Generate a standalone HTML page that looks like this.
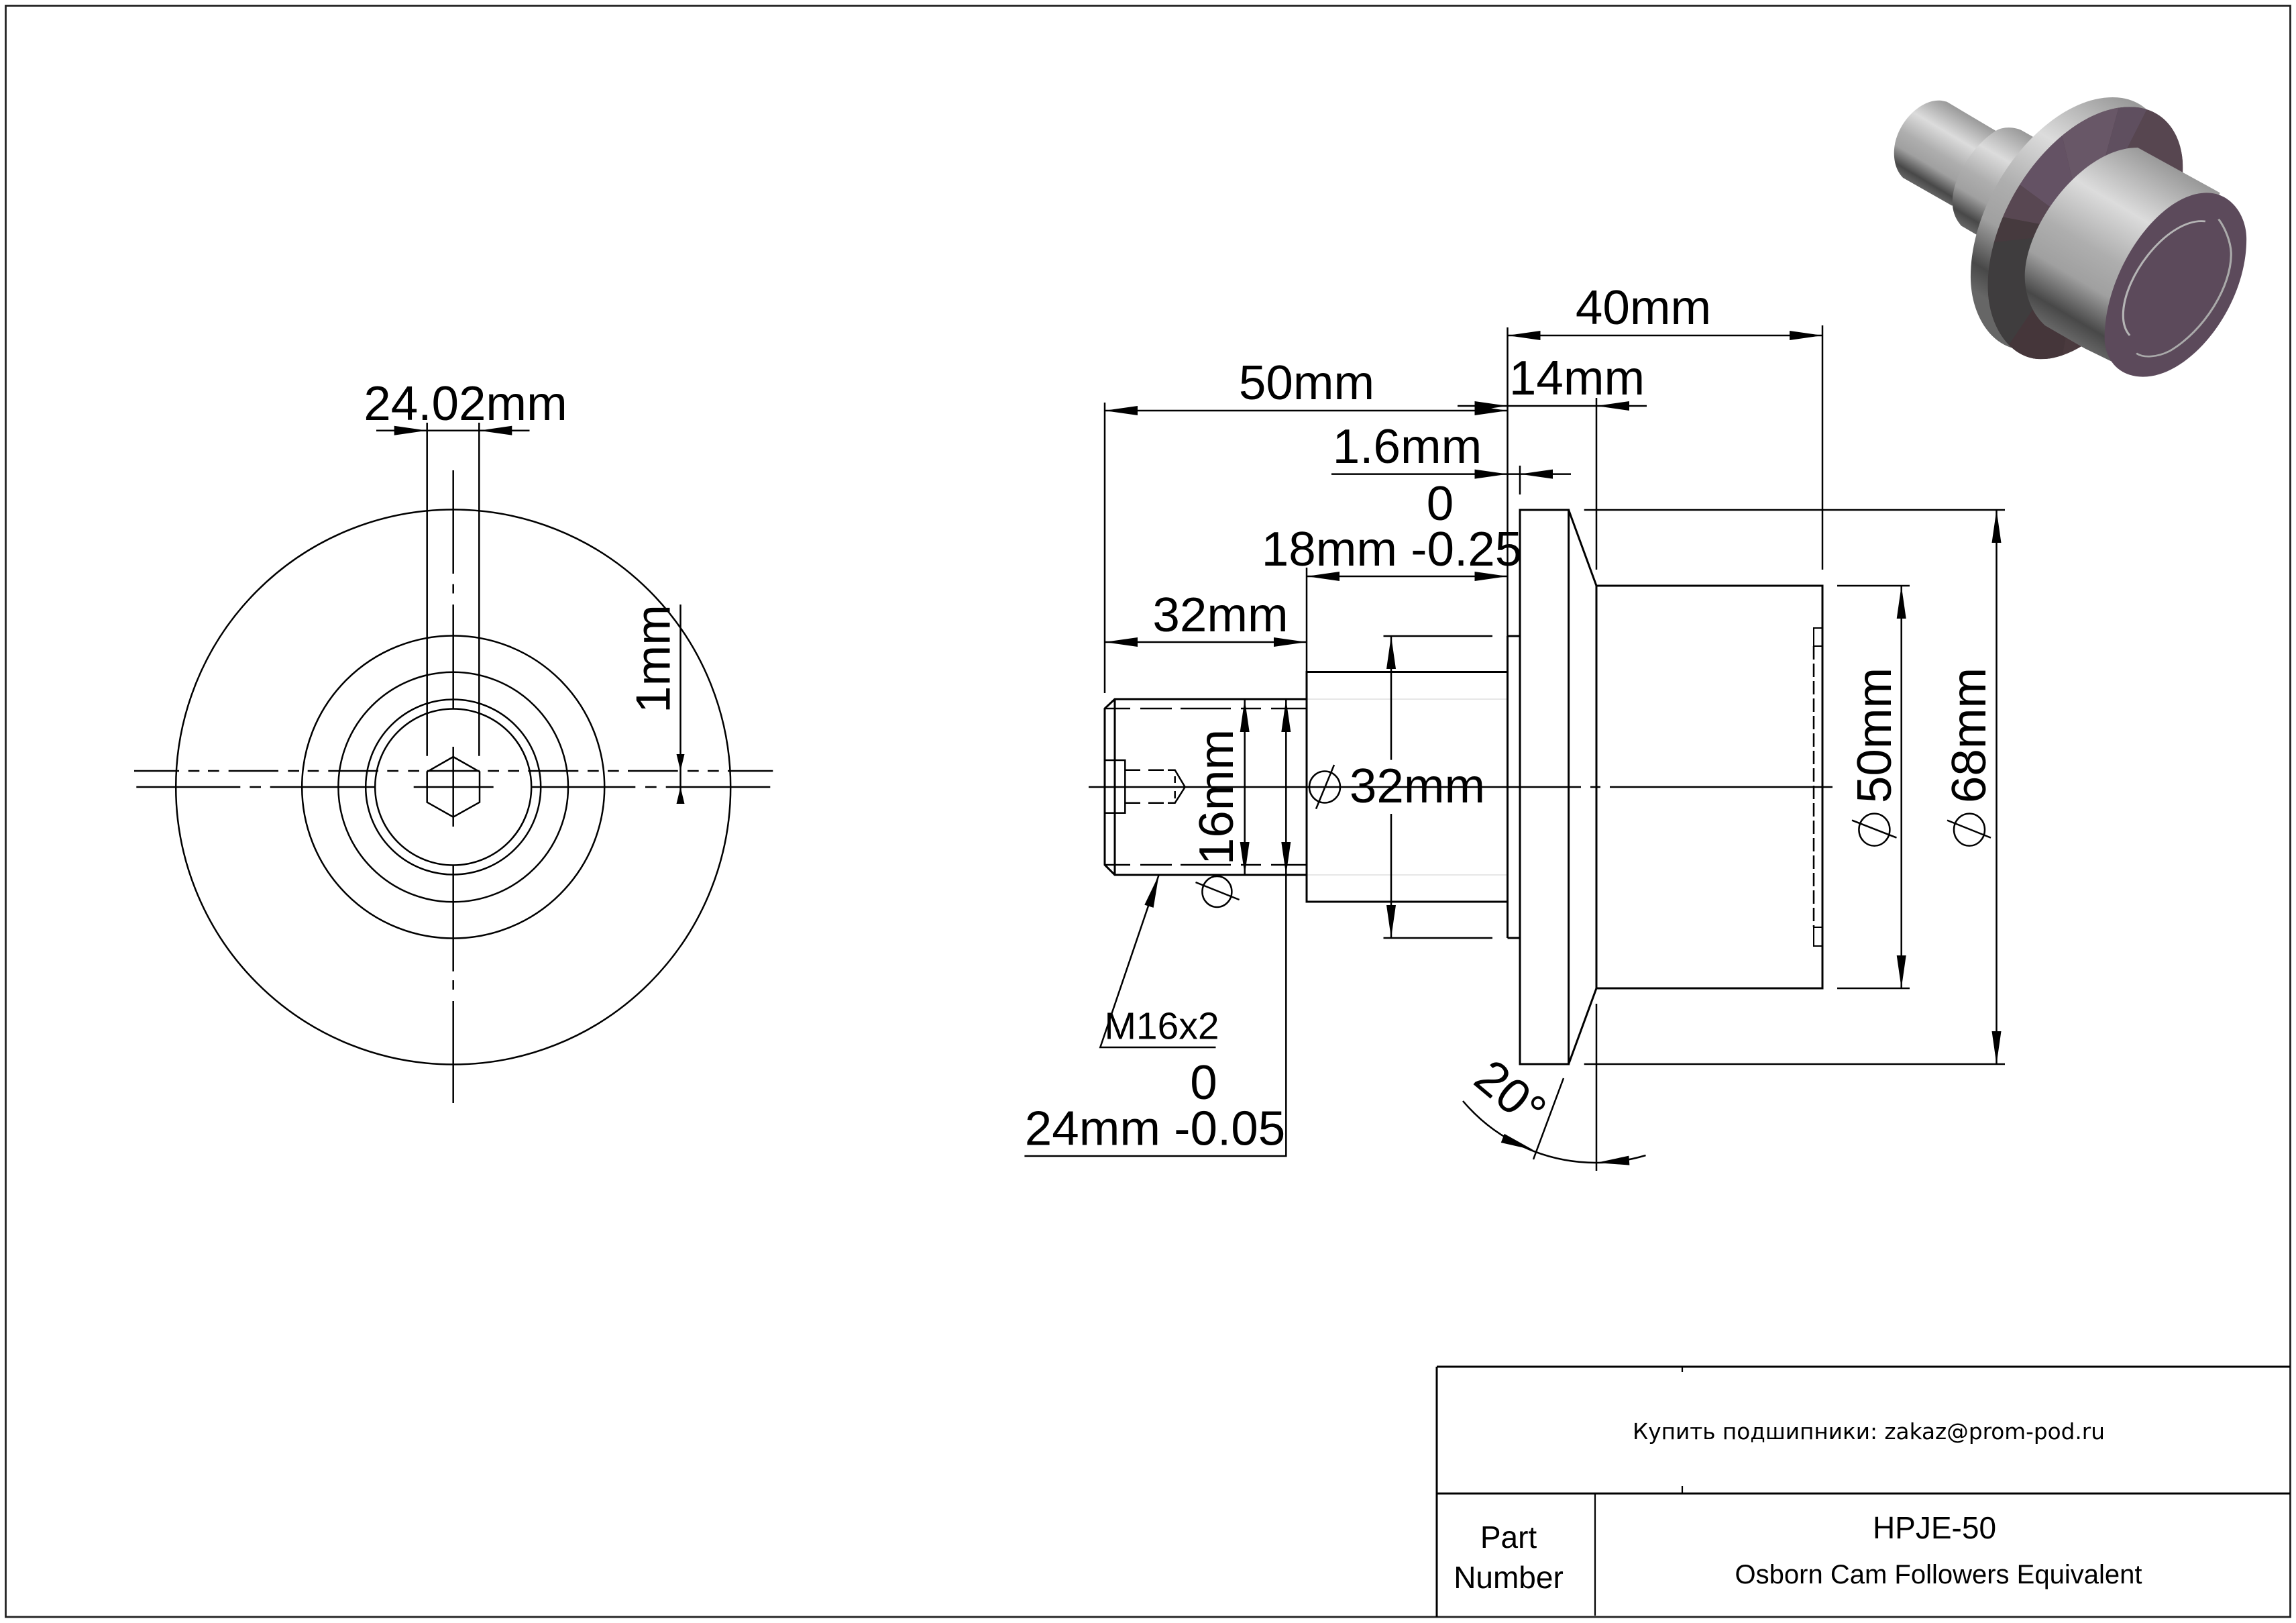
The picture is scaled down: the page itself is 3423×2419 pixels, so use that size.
<!DOCTYPE html>
<html><head><meta charset="utf-8"><title>HPJE-50</title>
<style>html,body{margin:0;padding:0;background:#fff}svg{display:block}
text{font-family:"Liberation Sans",sans-serif;fill:#000}
.d{font-size:72.8px;text-anchor:middle}
.o{stroke:#000;stroke-width:3;fill:none}
.t{stroke:#000;stroke-width:2.5;fill:none}
</style></head><body>
<svg xmlns="http://www.w3.org/2000/svg" width="3423" height="2419" viewBox="0 0 3423 2419">
<defs>
<path id="a" d="M0,0 L-49,-7 L-49,7 Z" fill="#000"/>
<path id="s" d="M0,0 L-25,-6 L-25,6 Z" fill="#000"/>
<linearGradient id="g0" gradientUnits="userSpaceOnUse">
<stop offset="0" stop-color="#9a9a9a"/><stop offset=".3" stop-color="#dcdcdc"/><stop offset=".55" stop-color="#aeaeae"/><stop offset=".72" stop-color="#a0a0a0"/><stop offset=".9" stop-color="#484848"/><stop offset="1" stop-color="#666"/>
</linearGradient>
<linearGradient id="g1" href="#g0" x1="360" y1="125" x2="145" y2="430"/>
<linearGradient id="g2" href="#g0" x1="650" y1="258" x2="374" y2="651"/>
<linearGradient id="g3" href="#g0" x1="1075" y1="140" x2="480" y2="985"/>
<linearGradient id="g4" href="#g0" x1="1235" y1="435" x2="745" y2="1133"/>
<clipPath id="ff"><path d="M1050,148 C1180,148 1250,270 1250,420 C1250,800 950,1276 715,1276 C600,1276 515,1130 515,950 C515,570 800,148 1050,148 Z"/></clipPath>
</defs>
<rect width="3423" height="2419" fill="#fff"/>

<!-- frame -->
<rect x="8.5" y="8.5" width="3406" height="2401.5" fill="none" stroke="#222" stroke-width="2.8"/>

<!-- title block -->
<g stroke="#000" fill="none">
<path d="M2142,2037 H3414 M2142,2037 V2410 M2142,2226 H3414" stroke-width="3"/>
<path d="M2378,2226 V2408 M2508,2037 V2045 M2508,2215 V2226" stroke-width="2.2"/>
</g>
<text x="2786" y="2145" text-anchor="middle" style="font-family:'DejaVu Sans',sans-serif;font-size:32.7px">Купить подшипники: zakaz@prom-pod.ru</text>
<text x="2249" y="2307" text-anchor="middle" font-size="46">Part</text>
<text x="2249" y="2367" text-anchor="middle" font-size="46">Number</text>
<text x="2884" y="2293" text-anchor="middle" font-size="46">HPJE-50</text>
<text x="2890" y="2360" text-anchor="middle" font-size="40">Osborn Cam Followers Equivalent</text>

<!-- LEFT VIEW -->
<g class="t">
<circle cx="675.7" cy="1173" r="413.5"/>
<circle cx="675.7" cy="1173" r="225.5"/>
<circle cx="675.7" cy="1173" r="171.3"/>
<circle cx="675.7" cy="1173" r="130.5"/>
<circle cx="675.7" cy="1173" r="116.5"/>
<polygon points="675.7,1128 715,1150.3 715,1195.7 675.7,1217.7 636.7,1195.7 636.7,1150.3"/>
<path d="M200,1149H267M280.7,1149H297.3M310,1149H326.7M340.7,1149H415M429.3,1149H446M458.7,1149H475.3M489.3,1149H564M577.3,1149H594M608.3,1149H625M636.7,1149H715M727.3,1149H744M757.3,1149H774M787.3,1149H862.3M876,1149H892.7M906,1149H922.7M936,1149H1010.7M1025,1149H1041.7M1055,1149H1071.7M1085,1149H1152.3"/>
<path d="M203.3,1173H358.3M372.3,1173H389M402.7,1173H558.3M616.7,1173H735.7M793.3,1173H947.3M962,1173H978.7M992.7,1173H1148.3"/>
<path d="M675.7,701V855M675.7,870.6V884.5M675.7,901V1056.5M675.7,1113V1232M675.7,1290V1447.7M675.7,1461V1475M675.7,1492V1644"/>
<path d="M636.7,630V1126.7M714.3,630V1126.7M561,641.7H789.5M1014.5,901V1198"/>
</g>
<use href="#a" transform="translate(636.7,641.7)"/>
<use href="#a" transform="translate(714.3,641.7) rotate(180)"/>
<use href="#s" transform="translate(1014.5,1149) rotate(90)"/>
<use href="#s" transform="translate(1014.5,1173) rotate(-90)"/>
<text class="d" x="694" y="626">24.02mm</text>
<text class="d" transform="translate(998.5,982) rotate(-90)">1mm</text>

<!-- RIGHT VIEW: object lines -->
<path d="M1948,1042H2247.5M1948,1304H2247.5" stroke="#e6e6e6" stroke-width="2" fill="none"/>
<g class="o">
<path d="M1948,1042H1662L1647,1056V1289L1662,1304H1948"/>
<path d="M1662,1042V1304"/>
<rect x="1948" y="1001.5" width="299.5" height="342.5"/>
<path d="M2247.5,948H2266M2247.5,1398H2266M2247.5,948V1398"/>
<rect x="2266" y="760" width="72.6" height="826"/>
<path d="M2338.6,760L2380,873M2338.6,1586L2380,1473"/>
<rect x="2380" y="873" width="337" height="600"/>
</g>
<g class="t">
<path d="M1647,1056H1685M1700,1056H1747M1760,1056H1835M1850,1056H1880M1895,1056H1948"/>
<path d="M1647,1289H1685M1700,1289H1747M1760,1289H1835M1850,1289H1880M1895,1289H1948"/>
<rect x="1647" y="1133" width="30.3" height="78.7"/>
<path d="M1677.3,1147.7H1700M1712,1147.7H1735M1741,1147.7H1751.7L1766.7,1173L1751.7,1196.7H1741M1735,1196.7H1712M1700,1196.7H1677.3"/>
<path d="M1751.7,1157V1167M1751.7,1179V1190"/>
<path d="M2704,963V1382" stroke-dasharray="20 6"/>
<path d="M2704,963V936H2717M2704,963H2717M2704,1382H2717M2704,1382V1410H2717" stroke-width="2"/>
<!-- centre line -->
<path d="M1623,1173H2357M2371,1173H2386M2400,1173H2732"/>
</g>

<!-- RIGHT VIEW: dimensions -->
<g class="t">
<path d="M2247.5,488V1001M2717,485V849M2247.5,500H2717"/>
<path d="M2173,605H2455M2380,593V849M2380,1496V1745"/>
<path d="M1647,612H2247.5M1647,600V1033"/>
<path d="M1985,706.6H2342M2266,694V737"/>
<path d="M1948,859H2247.5M1948,846V1001"/>
<path d="M1647,957H1948"/>
<path d="M2074,948V1132.6M2074,1213V1398M2062.5,948H2225M2062.5,1398H2225"/>
<path d="M1855.7,1042V1304M1917.3,1042V1723H1527.4"/>
<path d="M1727.7,1304L1640.3,1561H1812.5"/>
<path d="M2834.7,873V1473M2739,873H2847M2739,1473H2847"/>
<path d="M2976.5,760V1586M2361.7,760H2989M2361.7,1586H2989"/>
<path d="M2331,1607L2286,1728"/>
<path d="M2181,1641A260,260 0 0 0 2380,1733A260,260 0 0 0 2453.5,1722"/>
<!-- phi symbols -->
<ellipse cx="1975" cy="1173" rx="23" ry="23.5"/><path d="M1989,1140L1962,1205.6"/>
<ellipse cx="1814.4" cy="1329" rx="22" ry="23"/><path d="M1782.5,1315L1847.6,1341"/>
<ellipse cx="2794.4" cy="1236.6" rx="23" ry="24"/><path d="M2761,1222.6L2827.5,1248.6"/>
<ellipse cx="2936" cy="1236.6" rx="23" ry="24"/><path d="M2903,1222.6L2968,1248.6"/>
</g>
<use href="#a" transform="translate(2247.5,500) rotate(180)"/>
<use href="#a" transform="translate(2717,500)"/>
<use href="#a" transform="translate(2247.5,605)"/>
<use href="#a" transform="translate(2380,605) rotate(180)"/>
<use href="#a" transform="translate(1647,612) rotate(180)"/>
<use href="#a" transform="translate(2247.5,612)"/>
<use href="#a" transform="translate(2247.5,706.6)"/>
<use href="#a" transform="translate(2266,706.6) rotate(180)"/>
<use href="#a" transform="translate(1948,859) rotate(180)"/>
<use href="#a" transform="translate(2247.5,859)"/>
<use href="#a" transform="translate(1647,957) rotate(180)"/>
<use href="#a" transform="translate(1948,957)"/>
<use href="#a" transform="translate(2074,948) rotate(-90)"/>
<use href="#a" transform="translate(2074,1398) rotate(90)"/>
<use href="#a" transform="translate(1855.7,1042) rotate(-90)"/>
<use href="#a" transform="translate(1855.7,1304) rotate(90)"/>
<use href="#a" transform="translate(1917.3,1042) rotate(-90)"/>
<use href="#a" transform="translate(1917.3,1304) rotate(90)"/>
<use href="#a" transform="translate(1727.7,1304) rotate(-72.5)"/>
<use href="#a" transform="translate(2834.7,873) rotate(-90)"/>
<use href="#a" transform="translate(2834.7,1473) rotate(90)"/>
<use href="#a" transform="translate(2976.5,760) rotate(-90)"/>
<use href="#a" transform="translate(2976.5,1586) rotate(90)"/>
<use href="#a" transform="translate(2286,1714) rotate(21)"/>
<use href="#a" transform="translate(2380,1733) rotate(176)"/>

<text class="d" x="2450" y="483">40mm</text>
<text class="d" x="2351" y="588">14mm</text>
<text class="d" x="1948" y="595">50mm</text>
<text class="d" x="2098" y="690">1.6mm</text>
<text class="d" x="2147" y="775">0</text>
<text class="d" x="2075" y="843">18mm -0.25</text>
<text class="d" x="1819.5" y="941">32mm</text>
<text class="d" x="2113" y="1196">32mm</text>
<text class="d" x="1794.5" y="1638">0</text>
<text class="d" x="1722" y="1706.6">24mm -0.05</text>
<text x="1732" y="1548.5" text-anchor="middle" font-size="57">M16x2</text>
<text class="d" transform="translate(1838,1188) rotate(-90)">16mm</text>
<text class="d" transform="translate(2819,1096) rotate(-90)">50mm</text>
<text class="d" transform="translate(2960,1096) rotate(-90)">68mm</text>
<text class="d" transform="translate(2252,1630) rotate(40)" y="25">20°</text>

<!-- ISOMETRIC PART -->
<g transform="translate(2760,110) scale(0.3954,0.3333)">
<path d="M360,125 L545,255 L600,400 L380,590 L195,465 C165,430 155,370 165,310 C185,200 270,110 340,120 Z" fill="url(#g1)"/>
<path d="M545,255 C570,235 620,235 650,258 L690,285 L480,725 L415,680 C385,640 375,590 385,530 C400,430 470,310 545,255 Z" fill="url(#g2)"/>
<path d="M985,105 C1115,105 1185,227 1185,377 C1185,757 885,1233 650,1233 C535,1233 450,1087 450,907 C450,527 735,105 985,105 Z" fill="url(#g3)"/>
<polygon points="985,105 1050,148 1250,420 715,1276 650,1233" fill="url(#g3)"/>
<g clip-path="url(#ff)">
<rect x="480" y="100" width="800" height="1200" fill="#4a3a3e"/>
<polygon points="880,710 760,100 1020,100" fill="#685767"/>
<polygon points="880,710 1020,100 1140,100" fill="#5f4f5f"/>
<polygon points="880,710 1140,100 1300,100 1300,480" fill="#574650"/>
<polygon points="880,710 760,100 480,100 480,360" fill="#645264"/>
<polygon points="880,710 480,360 480,620" fill="#584752"/>
<polygon points="880,710 480,620 480,760" fill="#463a3e"/>
<polygon points="880,710 480,760 480,1180 590,1220" fill="#3f3d3e"/>
<polygon points="880,710 590,1220 650,1300 790,1300" fill="#45363a"/>
</g>
<path d="M1080,330 L1390,532 L1100,1355 L880,1228 L730,1125 C670,1060 650,960 655,880 C670,650 880,330 1080,330 Z" fill="url(#g4)"/>
<path d="M1340,532 C1430,532 1490,630 1490,740 C1490,1040 1280,1355 1100,1355 C1010,1355 955,1280 955,1180 C955,880 1160,532 1340,532 Z" fill="#5c4a5b"/>
<path d="M1335,660 C1200,640 1025,900 1025,1080 C1025,1120 1035,1150 1050,1170" fill="none" stroke="#b5b5b5" stroke-width="8"/>
<path d="M1075,1250 C1100,1270 1150,1270 1200,1240 C1330,1150 1435,950 1432,800 C1430,750 1410,690 1385,650" fill="none" stroke="#aaa" stroke-width="8"/>
</g>
</svg>
</body></html>
